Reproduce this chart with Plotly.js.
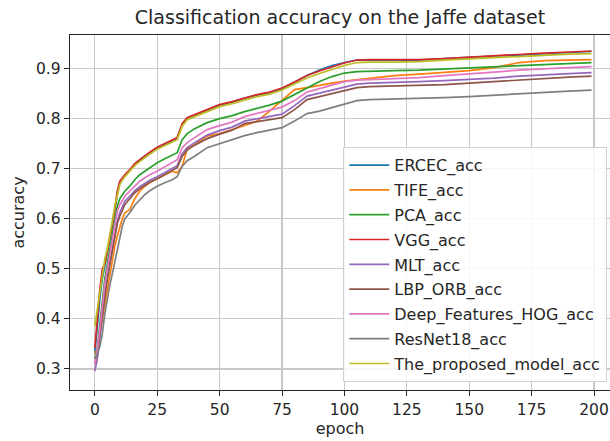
<!DOCTYPE html>
<html>
<head>
<meta charset="utf-8">
<script src="https://cdn.plot.ly/plotly-3.0.1.min.js"></script>
<style>html,body{margin:0;padding:0;background:#fff;}#chart{width:610px;height:441px;}</style>
</head>
<body>
<div id="chart"></div>
<script>
const epochs = [0,1,2,3,4,5,6,7,8,9,10,11,12,14,16,18,20,22,25,28,31,33,35,37,40,45,50,55,60,65,70,75,80,85,90,95,100,105,110,120,130,140,150,160,170,180,190,199];

const seriesNames = ["ERCEC_acc","TIFE_acc","PCA_acc","VGG_acc","MLT_acc","LBP_ORB_acc","Deep_Features_HOG_acc","ResNet18_acc","The_proposed_model_acc"];

const ercec = [0.330,0.39,0.44,0.48,0.505,0.53,0.555,0.585,0.615,0.65,0.672,0.680,0.686,0.697,0.709,0.717,0.725,0.732,0.742,0.749,0.756,0.761,0.789,0.801,0.807,0.817,0.827,0.833,0.841,0.847,0.852,0.859,0.872,0.886,0.897,0.906,0.912,0.917,0.917,0.917,0.917,0.920,0.923,0.925,0.927,0.930,0.932,0.934];
const tife = [0.33,0.34,0.37,0.40,0.43,0.46,0.49,0.52,0.545,0.565,0.585,0.600,0.612,0.618,0.640,0.655,0.665,0.672,0.680,0.688,0.695,0.692,0.705,0.740,0.748,0.765,0.770,0.778,0.786,0.795,0.815,0.837,0.858,0.862,0.867,0.871,0.875,0.878,0.880,0.886,0.889,0.892,0.896,0.902,0.912,0.916,0.917,0.918];
const pca = [0.32,0.34,0.39,0.44,0.48,0.51,0.54,0.57,0.60,0.625,0.640,0.648,0.655,0.665,0.678,0.688,0.695,0.702,0.712,0.720,0.727,0.732,0.758,0.770,0.780,0.792,0.800,0.806,0.814,0.820,0.827,0.835,0.848,0.862,0.874,0.884,0.891,0.894,0.895,0.896,0.897,0.899,0.901,0.903,0.906,0.908,0.910,0.912];
const vgg = [0.342,0.40,0.46,0.50,0.51,0.535,0.56,0.59,0.62,0.655,0.675,0.682,0.688,0.698,0.710,0.718,0.726,0.733,0.743,0.750,0.757,0.762,0.790,0.802,0.808,0.818,0.828,0.834,0.841,0.848,0.853,0.861,0.873,0.886,0.895,0.903,0.911,0.917,0.918,0.918,0.918,0.920,0.923,0.926,0.928,0.931,0.933,0.935];
const mlt = [0.296,0.32,0.36,0.41,0.45,0.48,0.51,0.54,0.57,0.595,0.612,0.625,0.635,0.645,0.656,0.664,0.671,0.677,0.684,0.692,0.700,0.706,0.730,0.742,0.752,0.767,0.776,0.783,0.795,0.800,0.804,0.809,0.826,0.845,0.851,0.857,0.864,0.869,0.871,0.872,0.874,0.876,0.878,0.881,0.885,0.888,0.890,0.892];
const lbpOrb = [0.31,0.33,0.37,0.41,0.45,0.48,0.51,0.535,0.565,0.59,0.605,0.618,0.628,0.640,0.652,0.660,0.667,0.673,0.680,0.688,0.696,0.702,0.725,0.737,0.747,0.760,0.769,0.777,0.790,0.794,0.798,0.802,0.818,0.838,0.844,0.850,0.857,0.862,0.864,0.865,0.866,0.868,0.871,0.874,0.877,0.881,0.883,0.885];
const deepHog = [0.31,0.34,0.38,0.43,0.47,0.50,0.53,0.56,0.59,0.615,0.628,0.638,0.645,0.655,0.666,0.675,0.682,0.688,0.695,0.703,0.712,0.718,0.742,0.752,0.762,0.778,0.786,0.793,0.804,0.810,0.816,0.823,0.836,0.853,0.860,0.867,0.874,0.877,0.878,0.880,0.882,0.886,0.889,0.893,0.897,0.900,0.902,0.904];
const resnet18 = [0.32,0.33,0.345,0.37,0.41,0.44,0.468,0.49,0.515,0.54,0.56,0.585,0.600,0.612,0.627,0.638,0.648,0.656,0.665,0.672,0.678,0.684,0.705,0.716,0.725,0.742,0.750,0.758,0.766,0.772,0.777,0.782,0.795,0.810,0.815,0.822,0.829,0.836,0.838,0.839,0.840,0.842,0.844,0.847,0.850,0.853,0.855,0.857];
const proposed = [0.385,0.42,0.46,0.49,0.52,0.54,0.565,0.595,0.625,0.65,0.668,0.677,0.684,0.695,0.706,0.714,0.722,0.729,0.739,0.746,0.753,0.758,0.785,0.798,0.804,0.814,0.824,0.830,0.837,0.844,0.849,0.857,0.869,0.881,0.890,0.898,0.906,0.912,0.913,0.913,0.914,0.917,0.920,0.922,0.924,0.927,0.929,0.930];

const seriesValues = [ercec,tife,pca,vgg,mlt,lbpOrb,deepHog,resnet18,proposed];
const colors = ["#1f77b4","#ff7f0e","#2ca02c","#d62728","#9467bd","#8c564b","#e377c2","#7f7f7f","#bcbd22"];

const xTicks = [0,25,50,75,100,125,150,175,200];
const yTicks = [0.3,0.4,0.5,0.6,0.7,0.8,0.9];

const traces = seriesNames.map((n,i)=>({
  x: epochs, y: seriesValues[i], name: n, type:'scatter', mode:'lines',
  line:{color:colors[i], width:1.7}, legendgroup:'g'+i
}));

const fontFam = 'DejaVu Sans, sans-serif';
const layout = {
  width:610, height:441,
  margin:{l:70, r:0, t:35, b:51},
  paper_bgcolor:'#fff', plot_bgcolor:'#fff',
  font:{family:fontFam, color:'#262626', size:15},
  title:{text:'Classification accuracy on the Jaffe dataset', x:0.5, xref:'paper', y:0.96, yanchor:'middle', font:{size:19, color:'#262626'}},
  xaxis:{range:[-9.95,206.4], tickvals:xTicks, ticktext:xTicks.map(String), showgrid:true, gridcolor:'#c8c8c8', gridwidth:1.1,
    zeroline:false, showline:true, linecolor:'#262626', linewidth:1.3, mirror:true, ticks:'outside', ticklen:5, tickcolor:'#262626',
    title:{text:'epoch', font:{size:16}, standoff:4}, automargin:false, tickfont:{size:15.5}},
  yaxis:{range:[0.258,0.967], tickvals:yTicks, ticktext:yTicks.map(v=>v.toFixed(1)), showgrid:true, gridcolor:'#c8c8c8', gridwidth:1.1,
    zeroline:false, showline:true, linecolor:'#262626', linewidth:1.3, mirror:false, ticks:'outside', ticklen:5, tickcolor:'#262626',
    title:{text:'accuracy', font:{size:16}, standoff:7}, automargin:false, tickfont:{size:15.5}},
  showlegend:true,
  legend:{x:0.995, xanchor:'right', y:0.022, yanchor:'bottom', bgcolor:'rgba(255,255,255,0.85)', bordercolor:'#d0d0d0', borderwidth:1,
    font:{size:16, color:'#262626'}, traceorder:'grouped', tracegroupgap:1, itemwidth:40}
};
Plotly.newPlot('chart', traces, layout, {staticPlot:true, displayModeBar:false});
</script>
</body>
</html>
